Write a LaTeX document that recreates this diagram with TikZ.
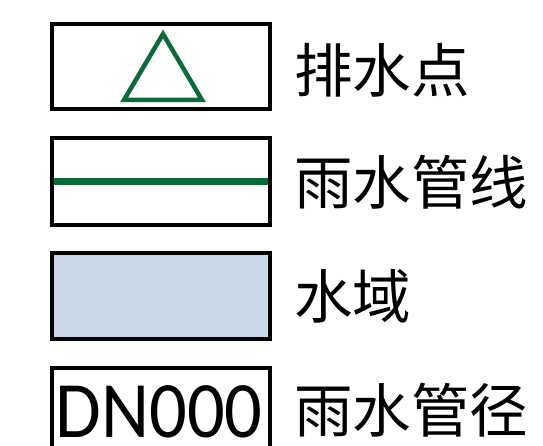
\documentclass[tikz,border=0pt]{standalone}
\usepackage{fontspec}
\newfontfamily\cjk{Noto Sans CJK SC}
\newfontfamily\carl{Carlito}
\definecolor{pipegreen}{HTML}{0B6A38}
\definecolor{waterblue}{HTML}{C9D7E8}
\begin{document}
\begin{tikzpicture}[x=1pt,y=1pt,
  legendbox/.style={draw=black,line width=4pt},
  label/.style={anchor=west,inner sep=0pt,font=\cjk\fontsize{58.5}{60}\selectfont}]
\useasboundingbox (0,0) rectangle (543,446);
% box 1
\draw[legendbox] (52,337) rectangle (270,422);
\coordinate (t1) at (163,412);
\coordinate (t2) at (124,346);
\coordinate (t3) at (202,346);
\draw[pipegreen,line width=4.5pt,line join=miter] (t1) -- (t2) -- (t3) -- cycle;
% box 2
\draw[legendbox] (52,221) rectangle (270,308);
\coordinate (l1) at (54,264);
\coordinate (l2) at (268,264);
\draw[pipegreen,line width=7pt] (l1) -- (l2);
% box 3
\draw[legendbox,fill=waterblue] (52,107) rectangle (270,193);
% box 4 (bottom edge outside the picture)
\coordinate (b1) at (52,0);
\coordinate (b2) at (52,78);
\coordinate (b3) at (270,78);
\coordinate (b4) at (270,0);
\draw[legendbox,line join=miter] (b1) -- (b2) -- (b3) -- (b4);
\node[anchor=base,inner sep=0pt,text depth=0pt,xscale=0.93,font=\carl\fontsize{80}{82}\selectfont] (dn) at (159,8) {DN000};
\node[label] (n1) at (294,376) {排水点};
\node[label] (n2) at (294,264) {雨水管线};
\node[label] (n3) at (294,150) {水域};
\node[label] (n4) at (294,36) {雨水管径};
\end{tikzpicture}
\end{document}
